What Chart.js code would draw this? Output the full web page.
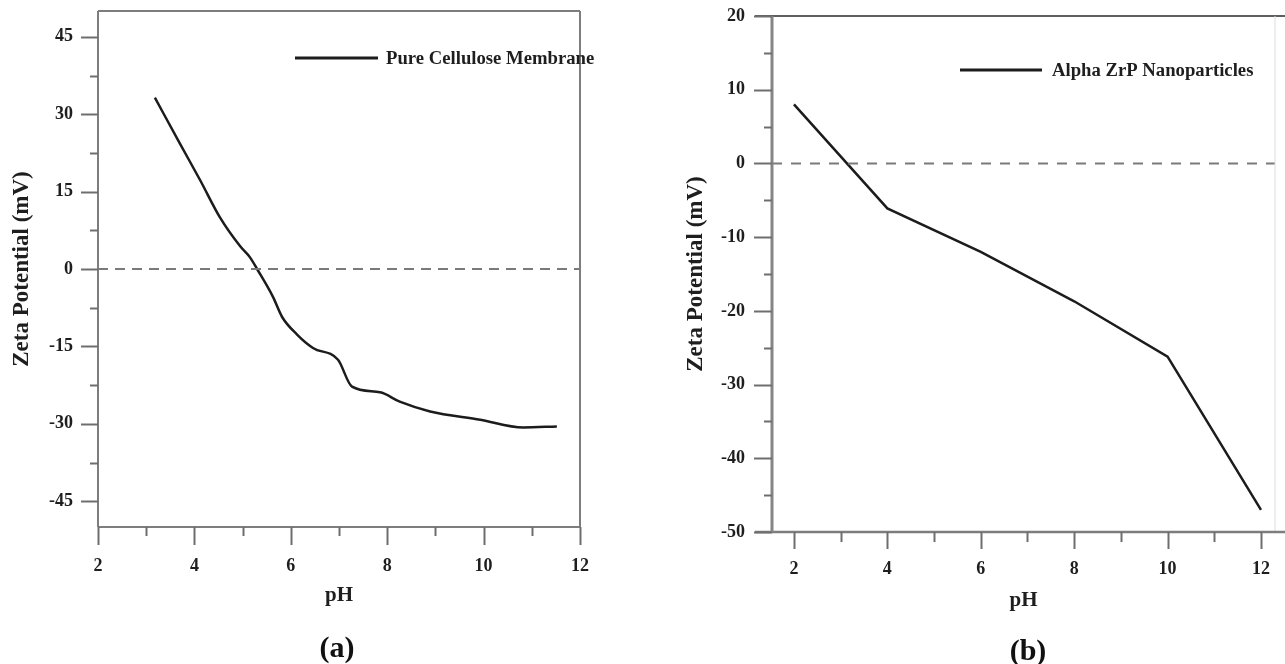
<!DOCTYPE html>
<html>
<head>
<meta charset="utf-8">
<script src="https://cdn.jsdelivr.net/npm/chart.js@4/dist/chart.umd.min.js"></script>
<style>
  html, body { margin: 0; padding: 0; background: #fff; }
  body { width: 1285px; height: 664px; position: relative; overflow: hidden; font-family: "Liberation Serif", serif; }
  canvas { position: absolute; top: 0; }
  #cA { left: 0; }
  #cB { left: 640px; }
  .panel { position: absolute; font: bold 30px "Liberation Serif", serif; color: #111; transform: translate(-50%, -50%); white-space: nowrap; }
</style>
</head>
<body>
<canvas id="cA" width="640" height="664"></canvas>
<canvas id="cB" width="645" height="664"></canvas>
<div class="panel" style="left:337px; top:647px;">(a)</div>
<div class="panel" style="left:1028px; top:650px;">(b)</div>
<script>
// ---------- Data: panel (a) ----------
const seriesA = 'Pure Cellulose Membrane';
const phA   = [3.18, 3.70, 4.12, 4.53, 4.95, 5.15, 5.30, 5.63, 5.82, 6.13, 6.46, 6.98, 7.27, 7.85, 8.26, 8.89, 9.93, 10.82, 11.52];
const zetaA = [33.2, 24.3, 17.2, 10.0, 4.4, 2.3, 0.0, -5.4, -9.3, -12.7, -15.3, -17.6, -22.8, -23.9, -25.7, -27.6, -29.2, -30.7, -30.5];
const xTicksA = [2, 4, 6, 8, 10, 12];
const xMinorA = [3, 5, 7, 9, 11];
const yTicksA = [-45, -30, -15, 0, 15, 30, 45];
const yMinorA = [-37.5, -22.5, -7.5, 7.5, 22.5, 37.5];

// ---------- Data: panel (b) ----------
const seriesB = 'Alpha ZrP Nanoparticles';
const phB   = [2, 4, 6, 8, 10, 12];
const zetaB = [8.0, -6.1, -12.0, -18.7, -26.2, -47.0];
const xTicksB = [2, 4, 6, 8, 10, 12];
const xMinorB = [3, 5, 7, 9, 11];
const yTicksB = [-50, -40, -30, -20, -10, 0, 10, 20];
const yMinorB = [-45, -35, -25, -15, -5, 5, 15];

const axisTitle = 'Zeta Potential (mV)';
const xTitle = 'pH';

const FONT = '"Liberation Serif", "Times New Roman", serif';
const TXT = '#1e1e1e';

function pts(xs, ys) { return xs.map((x, i) => ({ x: x, y: ys[i] })); }

const decorPlugin = {
  id: 'decor',
  afterDraw(chart) {
    const cfg = chart.options.plugins.decor;
    const ctx = chart.ctx;
    const a = chart.chartArea;
    const xs = chart.scales.x, ys = chart.scales.y;
    ctx.save();
    ctx.lineCap = 'butt';
    cfg.frame.forEach(f => {
      ctx.strokeStyle = f.color; ctx.lineWidth = f.width;
      ctx.beginPath();
      if (f.side === 'left') { ctx.moveTo(a.left, a.top); ctx.lineTo(a.left, a.bottom); }
      if (f.side === 'right') { ctx.moveTo(a.right, a.top); ctx.lineTo(a.right, a.bottom); }
      if (f.side === 'top') { ctx.moveTo(a.left - f.ext0, a.top); ctx.lineTo(a.right + (f.ext1 || 0), a.top); }
      if (f.side === 'bottom') { ctx.moveTo(a.left - f.ext0, a.bottom); ctx.lineTo(a.right + f.ext1, a.bottom); }
      ctx.stroke();
    });
    ctx.strokeStyle = cfg.tickColor; ctx.lineWidth = cfg.tickWidth;
    const drawY = (vals, len) => vals.forEach(v => {
      const y = Math.round(ys.getPixelForValue(v)) + 0.5;
      ctx.beginPath(); ctx.moveTo(a.left - len, y); ctx.lineTo(a.left, y); ctx.stroke();
    });
    const drawX = (vals, len) => vals.forEach(v => {
      const x = Math.round(xs.getPixelForValue(v)) + 0.5;
      ctx.beginPath(); ctx.moveTo(x, a.bottom); ctx.lineTo(x, a.bottom + len); ctx.stroke();
    });
    drawY(cfg.yMajor, cfg.yMajorLen); drawY(cfg.yMinor, cfg.yMinorLen);
    drawX(cfg.xMajor, cfg.xMajorLen); drawX(cfg.xMinor, cfg.xMinorLen);
    const ds = chart.data.datasets[1];
    ctx.strokeStyle = ds.borderColor; ctx.lineWidth = 3;
    ctx.beginPath(); ctx.moveTo(cfg.legend.x1, cfg.legend.y); ctx.lineTo(cfg.legend.x2, cfg.legend.y); ctx.stroke();
    ctx.fillStyle = TXT; ctx.font = 'bold 18.7px ' + FONT;
    ctx.textBaseline = 'middle'; ctx.textAlign = 'left';
    ctx.fillText(ds.label, cfg.legend.tx, cfg.legend.y + 1);
    ctx.restore();
  }
};

function zeroPad(s) { s.paddingTop = 0; s.paddingBottom = 0; s.paddingLeft = 0; s.paddingRight = 0; }

function makeChart(id, o) {
  return new Chart(document.getElementById(id), {
    type: 'line',
    data: {
      datasets: [
        { label: 'zero', data: pts([o.xMin, o.xMax], [0, 0]), borderColor: '#7a7a7a', borderWidth: 2,
          borderDash: o.dash, pointRadius: 0, fill: false, tension: 0 },
        { label: o.label, data: pts(o.xs, o.ys), borderColor: '#1c1c1c', borderWidth: 2.5,
          pointRadius: 0, fill: false, cubicInterpolationMode: o.monotone ? 'monotone' : 'default', tension: 0 }
      ]
    },
    options: {
      responsive: false, animation: false, devicePixelRatio: 1,
      layout: { padding: o.pad },
      plugins: { legend: { display: false }, tooltip: { enabled: false }, decor: o.decor },
      scales: {
        x: {
          type: 'linear', min: o.xMin, max: o.xMax,
          afterBuildTicks: s => { s.ticks = o.xTicks.map(v => ({ value: v })); },
          afterFit: s => { s.height = o.xAxisH; zeroPad(s); },
          grid: { display: false, drawTicks: false }, border: { display: false },
          ticks: { font: { family: FONT, size: 18, weight: 'bold' }, color: TXT, padding: o.xTickPad, autoSkip: false, maxRotation: 0 },
          title: { display: true, text: xTitle, color: TXT, font: { family: FONT, size: 21, weight: 'bold' }, padding: { top: 0, bottom: o.xTitlePad } }
        },
        y: {
          type: 'linear', min: o.yMin, max: o.yMax,
          afterBuildTicks: s => { s.ticks = o.yTicks.map(v => ({ value: v })); },
          afterFit: s => { s.width = o.yAxisW; zeroPad(s); },
          grid: { display: false, drawTicks: false }, border: { display: false },
          ticks: { font: { family: FONT, size: 18, weight: 'bold' }, color: TXT, padding: o.yTickPad, autoSkip: false },
          title: { display: true, text: axisTitle, color: TXT, font: { family: FONT, size: 23, weight: 'bold' }, padding: { top: o.yTitlePad, bottom: 0 } }
        }
      }
    },
    plugins: [decorPlugin]
  });
}

makeChart('cA', {
  label: seriesA, xs: phA, ys: zetaA, monotone: true,
  xMin: 2, xMax: 12, yMin: -50, yMax: 50, xTicks: xTicksA, yTicks: yTicksA,
  dash: [10, 7],
  pad: { left: 0, top: 11, right: 60, bottom: 0 },
  xAxisH: 137, yAxisW: 98, xTickPad: 29, yTickPad: 25, xTitlePad: 56, yTitlePad: 8,
  decor: {
    frame: [
      { side: 'left', color: '#7d7d7d', width: 2 },
      { side: 'bottom', color: '#7d7d7d', width: 2, ext0: 0, ext1: 0 },
      { side: 'top', color: '#7d7d7d', width: 2, ext0: 0 },
      { side: 'right', color: '#7d7d7d', width: 2 }
    ],
    tickColor: '#6e6e6e', tickWidth: 2,
    xMajor: xTicksA, xMinor: xMinorA, yMajor: yTicksA, yMinor: yMinorA,
    xMajorLen: 18, xMinorLen: 9, yMajorLen: 17, yMinorLen: 8,
    legend: { x1: 295, x2: 378, y: 58, tx: 386 }
  }
});

makeChart('cB', {
  label: seriesB, xs: phB, ys: zetaB, monotone: false,
  xMin: 1.53, xMax: 12.3, yMin: -50, yMax: 20, xTicks: xTicksB, yTicks: yTicksB,
  dash: [10, 9],
  pad: { left: 0, top: 16, right: 10, bottom: 0 },
  xAxisH: 132, yAxisW: 132, xTickPad: 27, yTickPad: 27, xTitlePad: 51, yTitlePad: 42,
  decor: {
    frame: [
      { side: 'top', color: '#2a2a2a', width: 1.5, ext0: 17, ext1: 10 },
      { side: 'right', color: '#dddddd', width: 1 },
      { side: 'bottom', color: '#7d7d7d', width: 2.5, ext0: 17, ext1: 10 },
      { side: 'left', color: '#858585', width: 3 }
    ],
    tickColor: '#6e6e6e', tickWidth: 2,
    xMajor: xTicksB, xMinor: xMinorB, yMajor: yTicksB, yMinor: yMinorB,
    xMajorLen: 17, xMinorLen: 10, yMajorLen: 18, yMinorLen: 8,
    legend: { x1: 320, x2: 402, y: 70, tx: 412 }
  }
});
</script>
</body>
</html>
